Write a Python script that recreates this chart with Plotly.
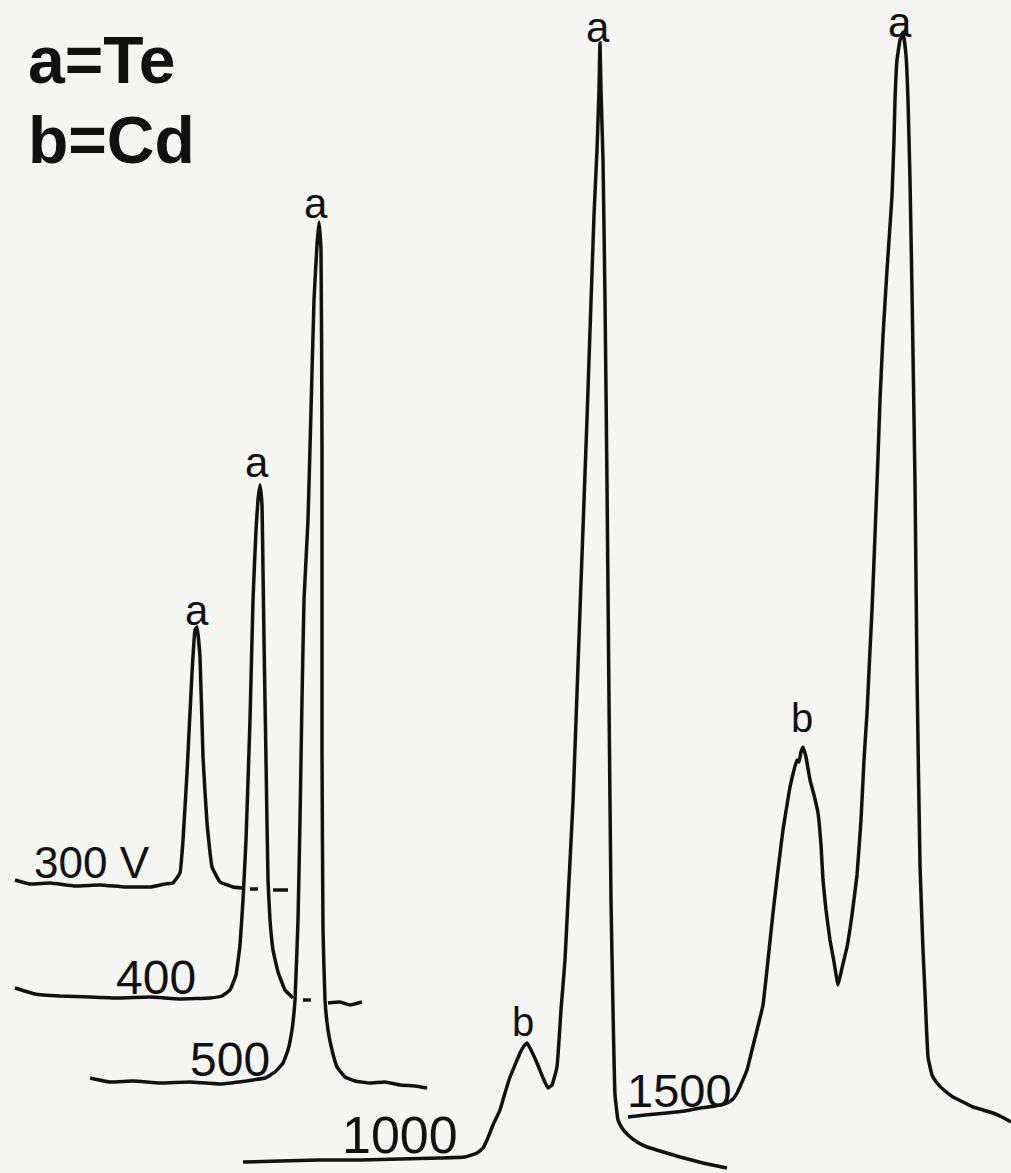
import plotly.graph_objects as go

# ---- data (scan position vs. detector signal, plotted in chart units; y grows downward) ----
v300_x = [15, 30, 50, 75, 100, 125, 150, 165, 173, 180, 183, 187, 192, 195, 197, 200, 203, 207, 212, 220, 233, 242, None, 250, 258, None, 273, 288]
v300_y = [880, 884, 883, 886, 885, 887, 887, 884, 883, 873, 840, 773, 673, 630, 627, 657, 757, 823, 867, 882, 887, 888, None, 889, 889, None, 890, 890]

v400_x = [15, 35, 60, 90, 120, 150, 180, 210, 222, 230, 236, 240, 243, 246, 250, 253, 256, 258, 260, 262, 263, 264, 266, 268, 270, 273, 278, 285, 293, None, 303, 311, None, 328, 340, 350, 362]
v400_y = [988, 994, 996, 997, 998, 997, 999, 998, 996, 990, 975, 945, 900, 840, 720, 600, 530, 500, 485, 505, 570, 640, 760, 880, 920, 950, 972, 990, 998, None, 1000, 1000, None, 1003, 1002, 1005, 1002]

v500_x = [90, 110, 133, 160, 190, 220, 253, 265, 275, 283, 288, 292, 295, 298, 300, 302, 304, 308, 311, 314, 317, 319, 321, 322, 322, 323, 325, 328, 332, 337, 345, 355, 370, 385, 400, 415, 427]
v500_y = [1078, 1082, 1081, 1083, 1082, 1084, 1080, 1078, 1072, 1063, 1050, 1030, 1000, 920, 820, 700, 600, 520, 410, 300, 245, 222, 250, 450, 750, 930, 1000, 1030, 1050, 1067, 1077, 1081, 1083, 1082, 1085, 1086, 1088]

v1000_x = [243, 280, 320, 360, 400, 440, 465, 477, 483, 487, 493, 500, 505, 510, 515, 520, 524, 527, 531, 537, 543, 548, 552, 557, 561, 565, 568, 573, 580, 587, 594, 597, 599, 600, 601, 603, 605, 607, 609, 611, 613, 615, 618, 622, 628, 637, 647, 660, 680, 703, 727]
v1000_y = [1162, 1161, 1160, 1160, 1159, 1158, 1157, 1153, 1148, 1140, 1125, 1110, 1093, 1077, 1065, 1053, 1046, 1043, 1050, 1063, 1078, 1088, 1085, 1067, 1010, 960, 900, 802, 610, 419, 215, 150, 90, 43, 90, 160, 300, 483, 700, 900, 1010, 1095, 1120, 1128, 1135, 1142, 1147, 1151, 1157, 1163, 1168]

v1500_x = [628, 645, 667, 685, 700, 715, 727, 733, 737, 742, 747, 752, 757, 763, 768, 773, 778, 783, 787, 790, 794, 797, 799, 801, 803, 806, 810, 814, 818, 821, 823, 826, 830, 834, 838, 842, 847, 852, 857, 861, 864, 867, 870, 872, 875, 878, 880, 883, 887, 892, 894, 895, 897, 900, 903, 906, 908, 910, 912, 915, 917, 920, 923, 925, 928, 932, 937, 945, 953, 963, 973, 983, 993, 1002, 1011]
v1500_y = [1117, 1115, 1113, 1111, 1108, 1106, 1103, 1099, 1093, 1082, 1070, 1050, 1030, 1005, 960, 913, 870, 830, 805, 787, 770, 760, 762, 752, 747, 757, 780, 795, 813, 845, 880, 910, 940, 962, 985, 968, 947, 915, 875, 820, 760, 713, 650, 610, 535, 457, 400, 336, 270, 196, 140, 100, 60, 40, 32, 55, 100, 180, 291, 483, 674, 865, 950, 993, 1057, 1075, 1083, 1091, 1097, 1102, 1107, 1110, 1113, 1117, 1122]

# voltage labels: text, x, y
volt_text = ["300 V", "400", "500", "1000", "1500"]
volt_x = [92, 156, 230, 400, 679]
volt_y = [862, 977, 1059, 1135, 1090]

# peak labels: text, x, y
peak_text = ["a", "a", "a", "a", "a", "b", "b"]
peak_x = [197, 257, 316, 598, 900, 523, 802]
peak_y = [610, 462, 203, 27, 22, 1022, 718]

legend_lines = ["a=Te", "b=Cd"]
legend_y = [60, 140]

# ---- figure ----
ink = "#111111"
fig = go.Figure()
for xs, ys, name in [(v300_x, v300_y, "300 V"), (v400_x, v400_y, "400 V"),
                     (v500_x, v500_y, "500 V"), (v1000_x, v1000_y, "1000 V"),
                     (v1500_x, v1500_y, "1500 V")]:
    fig.add_trace(go.Scatter(x=xs, y=ys, mode="lines", name=name,
                             line=dict(color=ink, width=3.5, shape="spline", smoothing=0.3),
                             connectgaps=False, showlegend=False, hoverinfo="skip"))

font_family = "Liberation Sans, Arial, sans-serif"
sizes = [44, 48, 48, 52, 47]
for t, x, y, s in zip(volt_text, volt_x, volt_y, sizes):
    fig.add_annotation(x=x, y=y, text=t, showarrow=False, xref="x", yref="y",
                       font=dict(family=font_family, size=s, color=ink))
for t, x, y in zip(peak_text, peak_x, peak_y):
    fig.add_annotation(x=x, y=y, text=t, showarrow=False, xref="x", yref="y",
                       font=dict(family=font_family, size=42 if t == "a" else 40, color=ink))
for t, y in zip(legend_lines, legend_y):
    fig.add_annotation(x=26, y=y, text="<b>" + t + "</b>", showarrow=False, xref="x", yref="y",
                       xanchor="left", yanchor="middle",
                       font=dict(family=font_family, size=66, color=ink))

fig.update_layout(
    width=1011, height=1173,
    margin=dict(l=0, r=0, t=0, b=0),
    paper_bgcolor="#f5f5f3", plot_bgcolor="#f5f5f3",
    xaxis=dict(range=[0, 1011], visible=False, fixedrange=True),
    yaxis=dict(range=[1173, 0], visible=False, fixedrange=True),
)
fig.write_html("out.html", config={"displayModeBar": False},
               post_script="document.body.style.margin='0';document.body.style.background='#f5f5f3';")
